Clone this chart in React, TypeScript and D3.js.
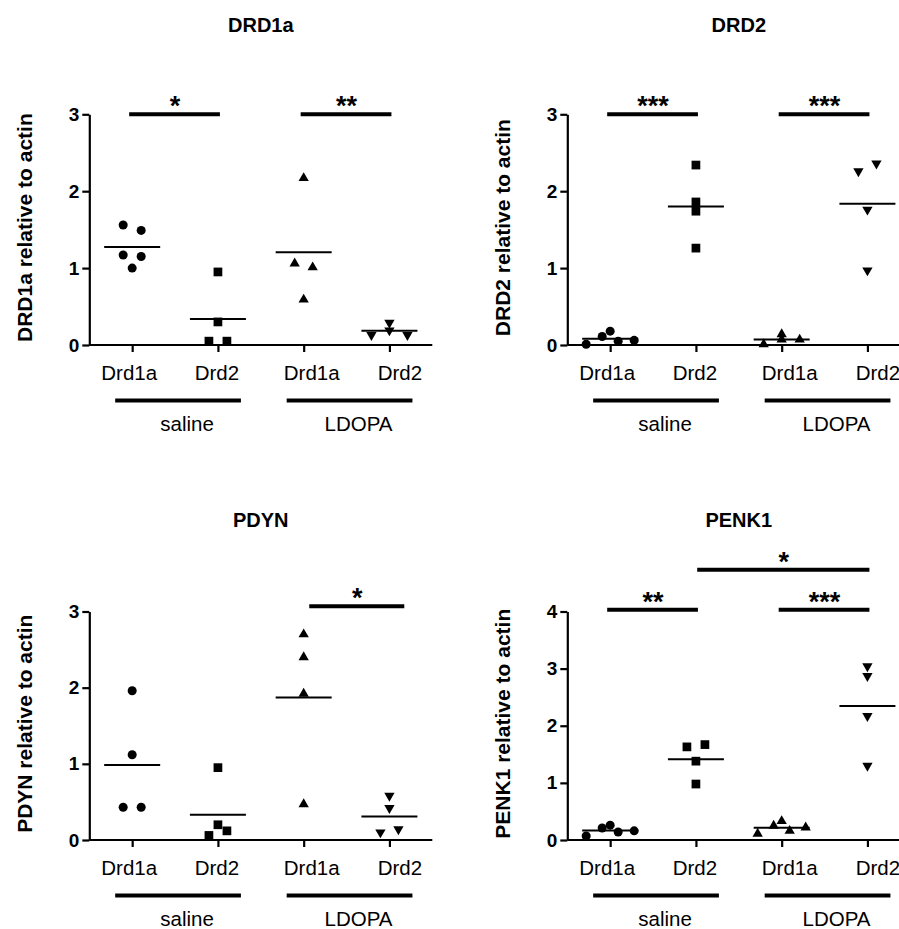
import React, { useEffect, useRef } from "react"
import * as d3 from "d3"

// panel titles / labels
const panelTitles = ["DRD1a", "DRD2", "PDYN", "PENK1"]
const categoryLabels = ["Drd1a", "Drd2", "Drd1a", "Drd2"]
const groupLabels = ["saline", "LDOPA"]
const yMaxes = [3, 3, 3, 4]

// replicate values per category: saline Drd1a, saline Drd2, LDOPA Drd1a, LDOPA Drd2
const drd1aValues = [
	[1.56, 1.49, 1.17, 1.15, 1.0],
	[0.95, 0.3, 0.05, 0.05],
	[2.17, 1.06, 1.01, 0.59],
	[0.13, 0.19, 0.13, 0.29],
]
const drd2Values = [
	[0.01, 0.11, 0.05, 0.06, 0.18],
	[2.34, 1.86, 1.74, 1.26],
	[0.01, 0.07, 0.07, 0.14],
	[2.26, 2.36, 1.76, 0.97],
]
const pdynValues = [
	[1.96, 1.12, 0.43, 0.43],
	[0.95, 0.2, 0.06, 0.12],
	[2.7, 2.4, 1.92, 0.47],
	[0.58, 0.42, 0.1, 0.14],
]
const penk1Values = [
	[0.26, 0.07, 0.21, 0.14, 0.16],
	[1.63, 1.67, 1.38, 0.98],
	[0.33, 0.11, 0.25, 0.16, 0.22],
	[3.04, 2.87, 2.17, 1.3],
]

// significance bars (category index from/to, y level in data units)
const drd1aStats = [
	{ from: 0, to: 1, level: 3, label: "*" },
	{ from: 2, to: 3, level: 3, label: "**" },
]
const drd2Stats = [
	{ from: 0, to: 1, level: 3, label: "***" },
	{ from: 2, to: 3, level: 3, label: "***" },
]
const pdynStats = [{ from: 2.1, to: 3.15, level: 3.07, label: "*" }]
const penk1Stats = [
	{ from: 0, to: 1, level: 4.03, label: "**" },
	{ from: 2, to: 3, level: 4.03, label: "***" },
	{ from: 1.05, to: 3, level: 4.73, label: "*" },
]

const panelValues = [drd1aValues, drd2Values, pdynValues, penk1Values]
const panelStats = [drd1aStats, drd2Stats, pdynStats, penk1Stats]

const FONT = "'Liberation Sans', Arial, Helvetica, sans-serif"

const App = () => {
	const ref = useRef<SVGSVGElement>(null)

	useEffect(() => {
		const width = 899
		const height = 929
		const svg = d3.select(ref.current).attr("width", width).attr("height", height)
		svg.selectAll("*").remove()

		const colLeft = [89.3, 567.3]
		const rowBottom = [345, 840]
		const rowHeight = [230.7, 228.5]
		const plotWidth = 343
		// category labels are not exactly centred under their ticks
		const labelShift = [-3.5, -1.5, 7.5, 10]

		const symbols = [
			d3.symbol().type(d3.symbolCircle).size(64),
			d3.symbol().type(d3.symbolSquare).size(76),
			d3.symbol().type(d3.symbolTriangle).size(46),
			d3.symbol().type(d3.symbolTriangle).size(46),
		]

		panelTitles.forEach((title, p) => {
			const left = colLeft[p % 2]
			const bottom = rowBottom[Math.floor(p / 2)]
			const top = bottom - rowHeight[Math.floor(p / 2)]
			const g = svg.append("g").style("font-family", FONT)

			const x = d3
				.scalePoint<number>()
				.domain(d3.range(categoryLabels.length))
				.range([left, left + plotWidth])
				.padding(0.5)
			const xf = (i: number) => x(0)! + i * x.step()

			const y = d3.scaleLinear().domain([0, yMaxes[p]]).range([bottom, top])

			// Title
			g.append("text")
				.attr("x", left + plotWidth / 2)
				.attr("y", bottom - 313)
				.attr("text-anchor", "middle")
				.style("font-size", "20px")
				.style("font-weight", "bold")
				.text(title)

			// y axis
			const yAxis = d3
				.axisLeft(y)
				.tickValues(d3.range(0, yMaxes[p] + 1))
				.tickFormat(d3.format("d"))
				.tickSize(7)
				.tickSizeOuter(0)
				.tickPadding(3)
			const ya = g.append("g").attr("transform", `translate(${left},0)`).call(yAxis)
			ya.selectAll("path, line").attr("stroke", "#000").attr("stroke-width", 2.2)
			ya.selectAll("text")
				.attr("fill", "#000")
				.style("font-family", FONT)
				.style("font-size", "19px")
				.style("font-weight", "bold")

			// y axis title
			g.append("text")
				.attr("transform", `translate(${left - 57},${(top + bottom) / 2 - 2}) rotate(-90)`)
				.attr("text-anchor", "middle")
				.style("font-size", "21px")
				.style("font-weight", "bold")
				.text(`${title} relative to actin`)

			// x axis
			const xAxis = d3
				.axisBottom(x)
				.tickFormat(i => categoryLabels[i])
				.tickSize(7)
				.tickSizeOuter(0)
				.tickPadding(13)
			const xa = g.append("g").attr("transform", `translate(0,${bottom})`).call(xAxis)
			xa.select(".domain").attr("d", `M${left},0H${left + plotWidth}`)
			xa.selectAll("path, line").attr("stroke", "#000").attr("stroke-width", 2.2)
			xa.selectAll("text")
				.attr("fill", "#000")
				.attr("dx", (d: any) => labelShift[d])
				.style("font-family", FONT)
				.style("font-size", "20.5px")

			// group lines and labels
			groupLabels.forEach((label, gi) => {
				const x1 = xf(gi * 2) - 17
				const x2 = xf(gi * 2 + 1) + 23
				g.append("line")
					.attr("x1", x1)
					.attr("x2", x2)
					.attr("y1", bottom + 55.5)
					.attr("y2", bottom + 55.5)
					.attr("stroke", "#000")
					.attr("stroke-width", 4)
				g.append("text")
					.attr("x", (x1 + x2) / 2 + 9)
					.attr("y", bottom + 85.5)
					.attr("text-anchor", "middle")
					.style("font-size", "20.5px")
					.text(label)
			})

			// scatter dots with simple row-binned spreading
			panelValues[p].forEach((vals, ci) => {
				const cx = xf(ci)
				const order = d3.range(vals.length).sort((a, b) => vals[a] - vals[b] || a - b)
				const offsets = new Array(vals.length).fill(0)
				let k = 0
				while (k < order.length) {
					const start = y(vals[order[k]])
					const bin = [order[k]]
					let j = k + 1
					while (j < order.length && start - y(vals[order[j]]) < 8.5) {
						bin.push(order[j])
						j++
					}
					bin.sort((a, b) => a - b)
					const sp = bin.length >= 4 ? 16 : 18
					bin.forEach((idx, bi) => {
						offsets[idx] = (bi - (bin.length - 1) / 2) * sp
					})
					k = j
				}

				g.selectAll(null)
					.data(vals)
					.join("path")
					.attr("d", symbols[ci]()!)
					.attr(
						"transform",
						(d, i) => `translate(${cx + offsets[i]},${y(d)})${ci === 3 ? " rotate(180)" : ""}`,
					)
					.attr("fill", "#000")

				// mean line
				const m = d3.mean(vals)!
				g.append("line")
					.attr("x1", cx - 28)
					.attr("x2", cx + 28)
					.attr("y1", y(m))
					.attr("y2", y(m))
					.attr("stroke", "#000")
					.attr("stroke-width", 2)
			})

			// significance bars
			panelStats[p].forEach(s => {
				const by = y(s.level)
				g.append("line")
					.attr("x1", xf(s.from) - 3)
					.attr("x2", xf(s.to) + 2)
					.attr("y1", by)
					.attr("y2", by)
					.attr("stroke", "#000")
					.attr("stroke-width", 4)
				g.append("text")
					.attr("x", (xf(s.from) + xf(s.to)) / 2)
					.attr("y", by + 1)
					.attr("text-anchor", "middle")
					.style("font-size", "27px")
					.style("font-weight", "bold")
					.text(s.label)
			})
		})
	}, [])

	return (
		<svg
			ref={ref}
			style={{ position: "absolute", left: 0, top: 0, background: "#fff" }}
		></svg>
	)
}

export default App
